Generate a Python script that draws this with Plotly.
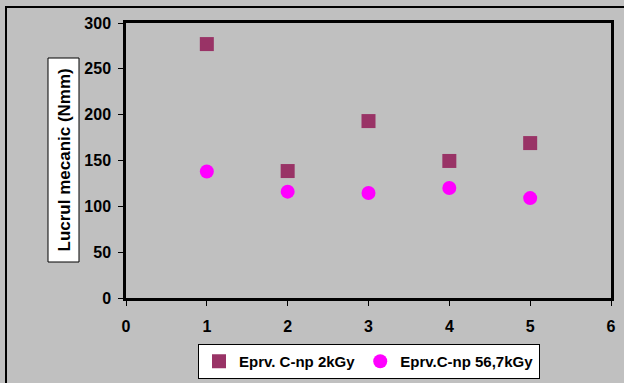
import plotly.graph_objects as go

# Mechanical work measurements for the two irradiation doses
doses_x = [1, 2, 3, 4, 5]
work_2kgy = [277, 138.5, 193, 149.5, 169]
work_567kgy = [138, 116, 114.5, 120, 109]

series_names = ["Eprv. C-np 2kGy", "Eprv.C-np 56,7kGy"]
y_title = "Lucrul mecanic (Nmm)"

FONT = "Liberation Sans, Arial, sans-serif"
GRAY = "#C0C0C0"
LINE = "#000000"

# Plot area in pixels (inside the 624x383 canvas)
L, R, T, B = 126, 611, 23, 298
W, H = 624, 383
pw, ph = R - L, B - T


def px_x(x):
    return (x - L) / pw


def px_y(y):
    return (B - y) / ph


fig = go.Figure()
fig.add_trace(go.Scatter(
    x=doses_x, y=work_2kgy, mode="markers", name=series_names[0],
    marker=dict(symbol="square", size=14, color="#993366", line=dict(width=0)),
))
fig.add_trace(go.Scatter(
    x=doses_x, y=work_567kgy, mode="markers", name=series_names[1],
    marker=dict(symbol="circle", size=14, color="#FF00FF", line=dict(width=0)),
))

axis_common = dict(
    showline=True, linecolor=LINE, linewidth=2.5, mirror=True,
    ticks="outside", ticklen=5, tickwidth=1, tickcolor=LINE,
    showgrid=False, zeroline=False,
    tickfont=dict(family=FONT, size=16, color="black", weight="bold"),
)

fig.update_xaxes(range=[0, 6], dtick=1, tick0=0, ticklabelstandoff=7, **axis_common)
fig.update_yaxes(range=[0, 300], dtick=50, tick0=0, ticklabelstandoff=4, **axis_common)

shapes = [
    # outer chart frame
    dict(type="rect", xref="paper", yref="paper",
         x0=px_x(6), x1=px_x(630), y0=px_y(390), y1=px_y(7),
         line=dict(color="black", width=2), fillcolor="rgba(0,0,0,0)", layer="below"),
    # box behind the y-axis title
    dict(type="rect", xref="paper", yref="paper",
         x0=px_x(48), x1=px_x(79), y0=px_y(262), y1=px_y(58),
         line=dict(color="black", width=1), fillcolor="white"),
]

annotations = [
    dict(text=y_title, xref="paper", yref="paper",
         x=px_x(63.5), y=px_y(160), xanchor="center", yanchor="middle",
         textangle=-90, showarrow=False,
         font=dict(family=FONT, size=17, color="black", weight="bold")),
]

fig.update_layout(
    template="none",
    width=W, height=H,
    margin=dict(l=L, r=W - R, t=T, b=H - B, autoexpand=False),
    paper_bgcolor=GRAY, plot_bgcolor=GRAY,
    shapes=shapes, annotations=annotations,
    showlegend=True,
    legend=dict(
        orientation="h", x=px_x(198), y=px_y(344),
        xanchor="left", yanchor="top",
        bgcolor="white", bordercolor="black", borderwidth=1,
        font=dict(family=FONT, size=15, color="black", weight="bold"),
        itemwidth=30, tracegroupgap=0,
    ),
)

fig.write_html("out.html")
